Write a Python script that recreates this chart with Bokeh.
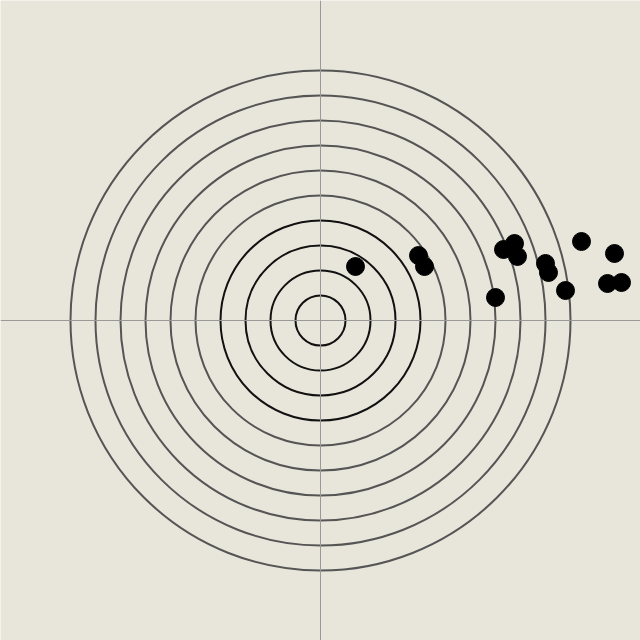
from bokeh.plotting import figure
from bokeh.models import Span, Range1d
from bokeh.embed import file_html
from bokeh.resources import INLINE

# Data
ring_radii = [1, 2, 3, 4, 5, 6, 7, 8, 9, 10]
point_x = [1.40, 3.92, 4.16, 7.32, 7.76, 7.88, 9.00, 9.12, 9.80, 7.00, 10.44, 11.76, 11.48, 12.04]
point_y = [2.16, 2.60, 2.16, 2.84, 3.08, 2.56, 2.28, 1.92, 1.20, 0.92, 3.16, 2.68, 1.48, 1.52]

BG = "#e8e5da"

p = figure(width=640, height=640, output_backend="svg", toolbar_location=None,
           x_range=Range1d(-12.8, 12.8), y_range=Range1d(-12.8, 12.8),
           x_axis_location=None, y_axis_location=None,
           min_border=0, min_border_left=0, min_border_right=0,
           min_border_top=0, min_border_bottom=0)
p.background_fill_color = BG
p.border_fill_color = BG
p.outline_line_color = None
p.xgrid.visible = False
p.ygrid.visible = False

p.add_layout(Span(location=0, dimension="width", line_color="#999999", line_width=1))
p.add_layout(Span(location=0, dimension="height", line_color="#999999", line_width=1))

colors = ["#111111" if r <= 4 else "#555555" for r in ring_radii]
p.circle(x=[0] * len(ring_radii), y=[0] * len(ring_radii), radius=ring_radii,
         fill_color=None, line_color=colors, line_width=2)

p.scatter(point_x, point_y, marker="circle", size=18, fill_color="black", line_color="black")

open("out.html", "w").write(file_html(p, INLINE))
